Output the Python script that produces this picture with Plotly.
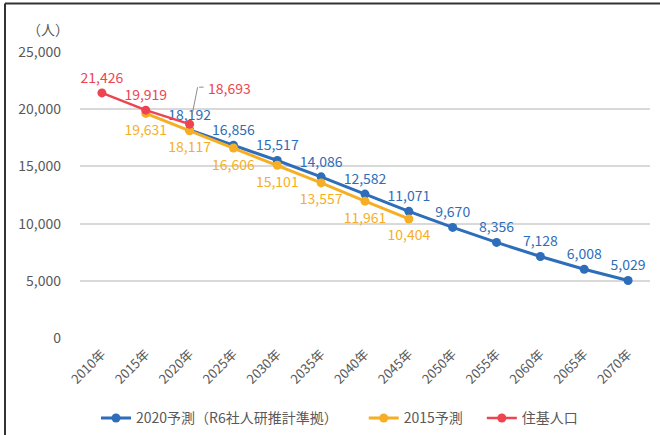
import plotly.graph_objects as go

years = ["2010年", "2015年", "2020年", "2025年", "2030年", "2035年", "2040年",
         "2045年", "2050年", "2055年", "2060年", "2065年", "2070年"]
proj2020_x = years[2:]
proj2020 = [18192, 16856, 15517, 14086, 12582, 11071, 9670, 8356, 7128, 6008, 5029]
proj2015_x = years[1:8]
proj2015 = [19631, 18117, 16606, 15101, 13557, 11961, 10404]
resident_x = years[0:3]
resident = [21426, 19919, 18693]

BLUE = "#2E6DB9"
ORANGE = "#F6AF25"
RED = "#EE4452"
GRAY = "#595959"
FONT = "Noto Sans CJK JP"

def fmt(v):
    return f"{v:,}"

fig = go.Figure()
fig.add_trace(go.Scatter(
    x=proj2020_x, y=proj2020, mode="lines+markers+text",
    name="2020予測（R6社人研推計準拠）\u3000\u3000",
    line=dict(color=BLUE, width=3), marker=dict(size=9, color=BLUE),
    text=[fmt(v) for v in proj2020], textposition="top center",
    textfont=dict(color=BLUE, size=14, family=FONT), cliponaxis=False))
fig.add_trace(go.Scatter(
    x=proj2015_x, y=proj2015, mode="lines+markers",
    name="2015予測\u3000",
    line=dict(color=ORANGE, width=3), marker=dict(size=9, color=ORANGE),
    cliponaxis=False))
# labels for 2015 projection (slightly further below the points)
fig.add_trace(go.Scatter(
    x=proj2015_x, y=proj2015, mode="markers+text", showlegend=False,
    marker=dict(size=16, color="rgba(0,0,0,0)"), hoverinfo="skip",
    text=[fmt(v) for v in proj2015], textposition="bottom center",
    textfont=dict(color=ORANGE, size=14, family=FONT), cliponaxis=False))
fig.add_trace(go.Scatter(
    x=resident_x, y=resident, mode="lines+markers+text",
    name="住基人口",
    line=dict(color=RED, width=2.5), marker=dict(size=9, color=RED),
    text=[fmt(v) for v in resident[:2]] + [""], textposition="top center",
    textfont=dict(color=RED, size=14, family=FONT), cliponaxis=False))

# callout for last resident value
fig.add_annotation(x=resident_x[2], y=resident[2], text=fmt(resident[2]),
                   showarrow=False, xshift=40, yshift=36,
                   font=dict(color=RED, size=14, family=FONT))
fig.add_annotation(x=resident_x[2], y=resident[2], text="", showarrow=True,
                   arrowhead=0, arrowwidth=1, arrowcolor="#8c8c8c",
                   ax=-6, ay=30, xshift=8, yshift=37)
fig.add_annotation(x=resident_x[2], y=resident[2], text="", showarrow=True,
                   arrowhead=0, arrowwidth=1, arrowcolor="#8c8c8c",
                   ax=-6, ay=0, xshift=14, yshift=37)

fig.add_annotation(xref="paper", yref="paper", x=(48 - 80) / 570, y=(338 - 29) / 286,
                   text="（人）", showarrow=False, xanchor="center", yanchor="middle",
                   font=dict(color=GRAY, size=14, family=FONT))

# frame lines (top and left)
fig.add_shape(type="line", xref="paper", yref="paper",
              x0=(5 - 80) / 570, x1=(700 - 80) / 570,
              y0=(338 - 3.5) / 286, y1=(338 - 3.5) / 286,
              line=dict(color="#333333", width=2))
fig.add_shape(type="line", xref="paper", yref="paper",
              x0=(5 - 80) / 570, x1=(5 - 80) / 570,
              y0=(338 - 3.5) / 286, y1=(338 - 440) / 286,
              line=dict(color="#333333", width=2))

fig.update_layout(
    width=660, height=435,
    margin=dict(l=80, r=10, t=52, b=97, autoexpand=False),
    paper_bgcolor="white", plot_bgcolor="white",
    font=dict(family=FONT, color=GRAY, size=13),
    showlegend=True,
    legend=dict(orientation="h", x=(96 - 80) / 570, xanchor="left", y=-0.225, yanchor="top",
                font=dict(size=14, color=GRAY, family=FONT), itemwidth=30,
                traceorder="normal"),
)
fig.update_xaxes(type="category", categoryorder="array", categoryarray=years,
                 range=[-0.5, 12.5],
                 tickangle=-45, showgrid=False, showline=False, zeroline=False,
                 automargin=False, ticklabelstandoff=5,
                 tickfont=dict(size=13, color=GRAY, family=FONT))
fig.update_yaxes(range=[0, 25000], dtick=5000, tickformat=",d",
                 showgrid=True, gridcolor="#d9d9d9", gridwidth=1.5,
                 zeroline=False, showline=False, ticklabelstandoff=18,
                 automargin=False,
                 tickfont=dict(size=14, color=GRAY, family=FONT))

post = ("document.body.style.margin='0';document.body.style.overflow='hidden';"
        "Plotly.relayout('{plot_id}', {width:660, height:435});")
fig.write_html("out.html", post_script=post, config={"displayModeBar": False})
